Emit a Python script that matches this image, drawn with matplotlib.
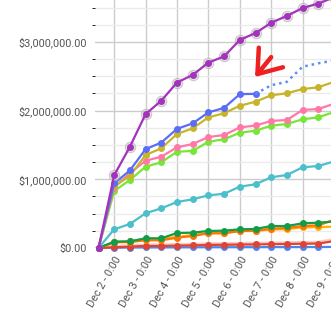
import numpy as np
import matplotlib
matplotlib.use("Agg")
import matplotlib.pyplot as plt
from matplotlib.ticker import FuncFormatter, MultipleLocator
import matplotlib.transforms as mtransforms

plt.rcParams['font.family'] = ['Roboto', 'DejaVu Sans']

# half-day steps starting Dec 1 12:00
t = np.arange(16)
day_ticks = [1, 3, 5, 7, 9, 11, 13, 15]
day_labels = ["Dec 2 - 0:00", "Dec 3 - 0:00", "Dec 4 - 0:00", "Dec 5 - 0:00",
              "Dec 6 - 0:00", "Dec 7 - 0:00", "Dec 8 - 0:00", "Dec 9 - 0:00"]

# values in $M
purple = [0, 1.06, 1.475, 1.95, 2.145, 2.41, 2.52, 2.70, 2.79, 3.03, 3.13, 3.28, 3.38, 3.495, 3.56, 3.65]
blue_solid = [0, 0.94, 1.13, 1.44, 1.535, 1.735, 1.815, 1.975, 2.04, 2.24, 2.245]
blue_dotted = [2.245, 2.37, 2.42, 2.64, 2.69, 2.73]
olive = [0, 0.90, 1.05, 1.354, 1.452, 1.66, 1.743, 1.903, 1.962, 2.072, 2.13, 2.224, 2.253, 2.315, 2.34, 2.42]
pink = [0, 0.88, 1.09, 1.27, 1.33, 1.466, 1.514, 1.616, 1.645, 1.755, 1.784, 1.85, 1.864, 2.01, 2.024, 2.10]
green = [0, 0.83, 0.99, 1.184, 1.248, 1.402, 1.413, 1.548, 1.583, 1.679, 1.708, 1.781, 1.806, 1.874, 1.903, 1.98]
teal = [0, 0.272, 0.35, 0.505, 0.578, 0.67, 0.709, 0.767, 0.79, 0.893, 0.928, 1.03, 1.063, 1.175, 1.194, 1.26]
dkgreen = [0, 0.092, 0.097, 0.141, 0.141, 0.218, 0.223, 0.248, 0.252, 0.272, 0.277, 0.32, 0.32, 0.36, 0.368, 0.386]
amber = [0, 0.09, 0.095, 0.135, 0.135, 0.16, 0.19, 0.215, 0.22, 0.245, 0.25, 0.27, 0.275, 0.30, 0.305, 0.31]
orange = [0, 0.083, 0.087, 0.112, 0.112, 0.15, 0.175, 0.214, 0.214, 0.248, 0.252, 0.281, 0.291, 0.32, 0.33, 0.41]
red = [0, 0.01, 0.02, 0.03, 0.03, 0.035, 0.038, 0.045, 0.047, 0.05, 0.052, 0.055, 0.058, 0.062, 0.065, 0.10]
red_band = [0, 0.02, 0.032, 0.042, 0.043, 0.048, 0.052, 0.059, 0.061, 0.064, 0.067, 0.07, 0.073, 0.078, 0.081, 0.12]
blue_low = [0, 0.004, 0.006, 0.008, 0.008, 0.009, 0.01, 0.011, 0.011, 0.012, 0.012, 0.013, 0.013, 0.014, 0.014, 0.016]

W, H = 331, 321
fig = plt.figure(figsize=(W / 100, H / 100), dpi=100)
# plot area runs past the right and top edges (chart is cropped)
left, right, top, bottom = 95, 345, -30, 248
ax = fig.add_axes([left / W, (H - bottom) / H, (right - left) / W, (bottom - top) / H])

x0, dx = 98.5, 15.7
ax.set_xlim((left - x0) / dx, (right - x0) / dx)
ax.set_ylim(0, (bottom - top) / 68.67)

for s in ax.spines.values():
    s.set_visible(False)
ax.yaxis.set_major_locator(MultipleLocator(1.0))
ax.yaxis.set_minor_locator(MultipleLocator(0.25))
ax.grid(which='minor', axis='y', color='#ebebeb', lw=1, zorder=0)
ax.grid(which='major', axis='y', color='#cccccc', lw=1, zorder=0)
ax.set_xticks(day_ticks)
ax.grid(which='major', axis='x', color='#cccccc', lw=1, zorder=0)
ax.axhline(0, color='#333333', lw=1, zorder=1)
ax.tick_params(length=0, labelsize=7.8, labelcolor='#555555')
ax.tick_params(axis='y', pad=6)
ax.yaxis.set_major_formatter(FuncFormatter(
    lambda v, p: "${:,.2f}".format(v * 1e6) if v < 3.6 else ""))
ax.set_xticklabels(day_labels, rotation=60, ha='right', va='center', rotation_mode='anchor')
off = mtransforms.ScaledTranslation(5 / 100, -4 / 100, fig.dpi_scale_trans)
for lab in ax.get_xticklabels():
    lab.set_transform(lab.get_transform() + off)

kw = dict(lw=1.6, marker='o', ms=4, clip_on=False)
ax.plot(t, blue_low, color='#4a86ee', zorder=3, **kw)
ax.plot(t, red_band, color='#f2a7a0', lw=2.5, alpha=0.6, zorder=3, clip_on=False)
ax.plot(t, red, color='#dd4433', zorder=3, **kw)
ax.plot(t, amber, color='#ffb300', zorder=3, **kw)
ax.plot(t, orange, color='#ff7300', zorder=3, **kw)
ax.plot(t, dkgreen, color='#139c48', zorder=3, **kw)
ax.plot(t, teal, color='#4bbfcc', zorder=3, **kw)
ax.plot(t, green, color='#77e637', zorder=3, **kw)
ax.plot(t, pink, color='#ff78a8', zorder=3, **kw)
ax.plot(t, olive, color='#c6b42a', zorder=3, **kw)
ax.plot(t[:len(blue_solid)], blue_solid, color='#5b6cf6', zorder=3, **kw)
ax.plot(t[len(blue_solid) - 1:], blue_dotted, color='#5b8ef6', lw=1.8,
        ls=(0, (1, 1.6)), zorder=3, clip_on=False)
ax.plot(t[1:], purple[1:], ls='none', marker='o', ms=7.5, mfc='#cccccc', mec='#aaaaaa',
        mew=0.8, alpha=0.55, zorder=3, clip_on=False)
ax.plot(t, purple, color='#a333bb', zorder=4, **kw)

# hand-drawn red arrow
ax.annotate("", xy=(9.97, 2.49), xytext=(11.0, 2.78),
            arrowprops=dict(arrowstyle='->,head_length=0.55,head_width=0.4',
                            color='#ee2020', lw=3.2, mutation_scale=28,
                            shrinkA=0, shrinkB=0))

fig.savefig("out.png", dpi=100)
